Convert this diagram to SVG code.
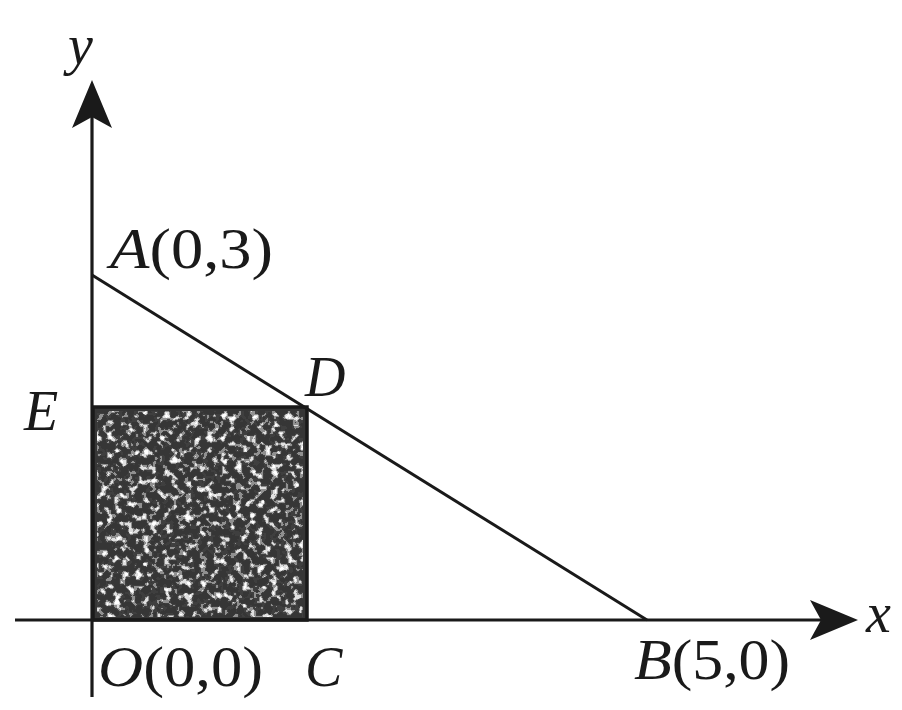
<svg xmlns="http://www.w3.org/2000/svg" width="902" height="710" viewBox="0 0 902 710">
<style>
.ax{stroke:#1a1a1a;stroke-width:3.2;fill:none}
.ln{stroke:#1a1a1a;stroke-width:3;fill:none}
.lbl{font-family:"Liberation Serif","Times New Roman",serif;font-size:56px;fill:#1a1a1a}
.it{font-style:italic}
</style>
<defs>
<marker id="arr" viewBox="-50 -22 52 44" refX="-13" refY="0" markerWidth="52" markerHeight="44" markerUnits="userSpaceOnUse" orient="auto">
<path d="M0,0 L-48,-20 L-37,0 L-48,20 Z" fill="#1a1a1a"/>
</marker>
<filter id="speck" x="0" y="0" width="100%" height="100%">
<feTurbulence type="fractalNoise" baseFrequency="0.14" numOctaves="2" seed="7" result="t"/>
<feColorMatrix in="t" type="matrix" values="0 0 0 0 1  0 0 0 0 1  0 0 0 0 1  1.6 0 0 0 -0.33"/>
<feComponentTransfer><feFuncA type="discrete" tableValues="0 0 0 0.05 0.45 0.85 1"/></feComponentTransfer>
<feGaussianBlur stdDeviation="0.6"/>
<feComposite in2="SourceGraphic" operator="in"/>
</filter>
</defs>
<rect width="902" height="710" fill="#ffffff"/>
<g id="region">
<rect x="93" y="407" width="214" height="213" fill="#363636"/>
<rect x="97" y="411" width="206" height="206" fill="#000" filter="url(#speck)"/>
<rect x="93" y="407" width="214" height="213" fill="none" stroke="#1a1a1a" stroke-width="3.5"/>
</g>
<g id="connectors">
<line class="ax" x1="15" y1="620" x2="845" y2="620" marker-end="url(#arr)"/>
<line class="ax" x1="92" y1="697" x2="92" y2="93" marker-end="url(#arr)"/>
<line class="ln" x1="92" y1="275" x2="647" y2="620"/>
</g>
<g id="label-y"><text class="lbl it" x="68" y="64">y</text></g>
<g id="label-x"><text class="lbl it" x="866" y="632">x</text></g>
<g id="node-A"><text class="lbl" x="110" y="268" textLength="163" lengthAdjust="spacingAndGlyphs"><tspan class="it">A</tspan>(0,3)</text></g>
<g id="node-D"><text class="lbl it" x="305" y="396">D</text></g>
<g id="node-E"><text class="lbl it" x="24" y="430">E</text></g>
<g id="node-O"><text class="lbl" x="98" y="686" textLength="165" lengthAdjust="spacingAndGlyphs"><tspan class="it">O</tspan>(0,0)</text></g>
<g id="node-C"><text class="lbl it" x="305" y="686">C</text></g>
<g id="node-B"><text class="lbl" x="634" y="679" textLength="156" lengthAdjust="spacingAndGlyphs"><tspan class="it">B</tspan>(5,0)</text></g>
</svg>
